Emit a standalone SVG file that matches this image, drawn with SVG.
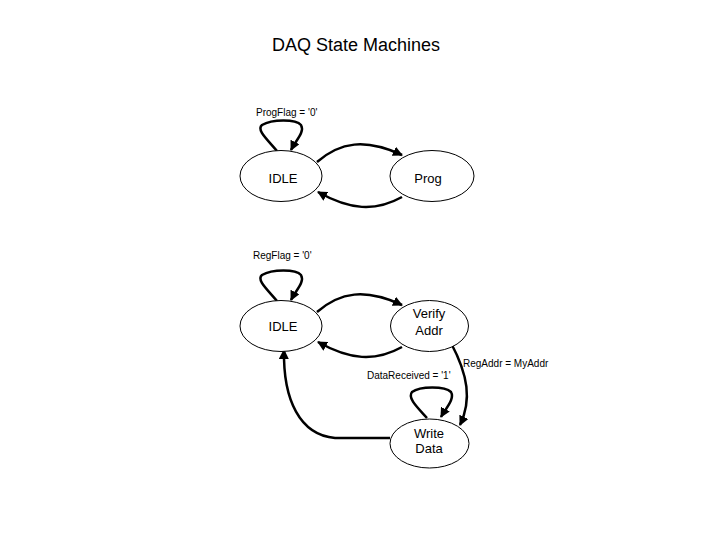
<svg xmlns="http://www.w3.org/2000/svg" width="720" height="540" viewBox="0 0 720 540">
<style>
.n{fill:#fff;stroke:#000;stroke-width:1}
.t{font-family:"Liberation Sans",Arial,sans-serif;font-size:13px;fill:#000;text-anchor:middle}
.l{font-family:"Liberation Sans",Arial,sans-serif;font-size:10px;fill:#000}
.c{fill:none;stroke:#000;stroke-width:2.5}
</style>
<defs>
<marker id="ah" viewBox="0 0 10 10" refX="9" refY="5" markerWidth="4" markerHeight="4" orient="auto" markerUnits="strokeWidth">
<path d="M0,0L10,5L0,10z" fill="#000"/>
</marker>
</defs>
<rect width="720" height="540" fill="#fff"/>
<text x="356" y="51" font-family="Liberation Sans,Arial,sans-serif" font-size="18" text-anchor="middle">DAQ State Machines</text>
<g id="connectors">
<path class="c" d="M277,151 C268,140 256,130 262,125 C272,119 296,119 301,125 C305,132 296,140 291,150" marker-end="url(#ah)"/>
<path class="c" d="M317,162 C340,142 365,138 402,155" marker-end="url(#ah)"/>
<path class="c" d="M402,197 C375,212 350,210 318,192" marker-end="url(#ah)"/>
<path class="c" d="M277,301 C268,290 256,280 262,275 C272,269 296,269 301,275 C305,282 296,290 291,300" marker-end="url(#ah)"/>
<path class="c" d="M317,312 C340,292 365,288 402,305" marker-end="url(#ah)"/>
<path class="c" d="M402,347 C375,362 350,360 318,342" marker-end="url(#ah)"/>
<path class="c" d="M451,343 C468,375 472,400 460,425" marker-end="url(#ah)"/>
<path class="c" d="M390,438 L335,438 C300,435 283,400 284,350" marker-end="url(#ah)"/>
<path class="c" d="M427,418 C418,408 407,398 412,392 C420,386 445,386 451,392 C455,399 446,408 441,417" marker-end="url(#ah)"/>
</g>
<g id="idle1"><ellipse class="n" cx="281" cy="176" rx="41" ry="25.5"/><text class="t" x="283" y="183">IDLE</text></g>
<g id="prog"><ellipse class="n" cx="432" cy="176" rx="42" ry="25.5"/><text class="t" x="428" y="183">Prog</text></g>
<g id="idle2"><ellipse class="n" cx="281" cy="326" rx="41" ry="25.5"/><text class="t" x="283" y="331">IDLE</text></g>
<g id="verify"><ellipse class="n" cx="429.5" cy="326" rx="39" ry="25.5"/><text class="t" x="429" y="318">Verify</text><text class="t" x="429" y="335">Addr</text></g>
<g id="write"><ellipse class="n" cx="429.5" cy="443.5" rx="39.5" ry="24.5"/><text class="t" x="429" y="438">Write</text><text class="t" x="429" y="453">Data</text></g>
<g id="labels">
<text class="l" x="256" y="116">ProgFlag = '0'</text>
<text class="l" x="253" y="259">RegFlag = '0'</text>
<text class="l" x="463" y="367">RegAddr = MyAddr</text>
<text class="l" x="367" y="379">DataReceived = '1'</text>
</g>
</svg>
